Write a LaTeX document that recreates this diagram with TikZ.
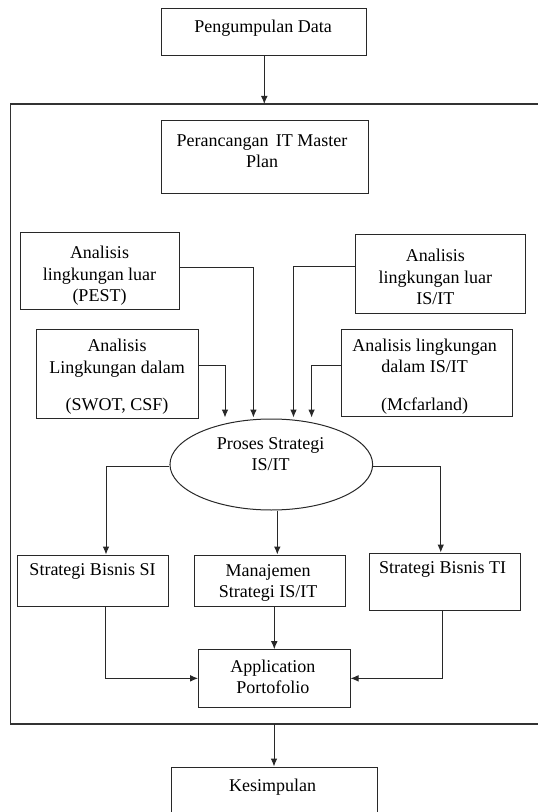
\documentclass[tikz,border=0pt]{standalone}
\usepackage{fontspec}
\setmainfont{Liberation Serif}
\usetikzlibrary{arrows.meta,calc,shapes.geometric}

\tikzset{every picture/.style={line width=0.75pt}}
\tikzset{
  box/.style={draw={rgb, 255:red, 40; green, 40; blue, 40}, inner sep=0pt},
  oval/.style={ellipse, draw={rgb, 255:red, 40; green, 40; blue, 40}, inner sep=0pt},
  frame/.style={draw={rgb, 255:red, 50; green, 50; blue, 50}, line width=1.1pt},
  txt/.style={align=center, inner sep=0.75pt, font=\fontsize{13.5}{16}\selectfont},
  arr/.style={draw={rgb, 255:red, 40; green, 40; blue, 40}, -{Latex[length=6pt,width=5pt]}}
}

\begin{document}
\begin{tikzpicture}[x=0.75pt,y=0.75pt,yscale=-1,xscale=1]
\useasboundingbox (0,0) rectangle (537,812);

%Shape: Frame (open at the right)
\draw [frame] (545,104) -- (10.7,104) -- (10.7,724) -- (545,724) ;
\coordinate (frameTop) at (264.3,104);
\coordinate (frameBot) at (274,724);

%Shape: Rectangles
\node [box, minimum width=154pt, minimum height=35.25pt] (pengumpulan) at (264.3,32.5) {};
\node [box, minimum width=155.25pt, minimum height=55.1pt] (perancangan) at (264.5,156.75) {};
\node [box, minimum width=119.6pt, minimum height=57.45pt] (pest) at (100.25,271.3) {};
\node [box, minimum width=121.5pt, minimum height=66.4pt] (dalam) at (117.6,373.75) {};
\node [box, minimum width=127.3pt, minimum height=59.25pt] (luarIT) at (440.85,274.5) {};
\node [box, minimum width=128pt, minimum height=65.6pt] (dalamIT) at (426.7,373.25) {};
%Shape: Ellipse
\node [oval, minimum width=152pt, minimum height=68.25pt] (proses) at (271.3,464.5) {};
\node [box, minimum width=113.25pt, minimum height=38.25pt] (bisnisSI) at (92.5,580.5) {};
\node [box, minimum width=112.9pt, minimum height=38.25pt] (manajemen) at (269.75,580.5) {};
\node [box, minimum width=113.6pt, minimum height=42.75pt] (bisnisTI) at (444.75,581.5) {};
\node [box, minimum width=113.55pt, minimum height=43pt] (aplikasi) at (274.3,678.35) {};
\node [box, minimum width=154.5pt, minimum height=37.5pt] (kesimpulan) at (274,792) {};

%Straight Lines
\draw [arr] (pengumpulan.south) -- (frameTop) ;
\draw [arr] ($(pest.east)+(0,-3.8)$) -| ($(proses.north)+(-17.9,-1)$) ;
\draw [arr] ($(dalam.east)+(0,-8.75)$) -| ($(proses.north)+(-46.3,-1)$) ;
\draw [arr] ($(luarIT.west)+(0,-7.7)$) -| ($(proses.north)+(22.2,-1)$) ;
\draw [arr] ($(dalamIT.west)+(0,-8.25)$) -| ($(proses.north)+(40.3,-1)$) ;
\draw [arr] ($(proses.west)+(0,2)$) -| ($(bisnisSI.north)+(13.5,0)$) ;
\path ($(proses.south)+(6,0)$) coordinate (prosesS) ;
\draw [arr] (prosesS) -- (prosesS |- manajemen.north) ;
\draw [arr] ($(proses.east)+(0,2)$) -| ($(bisnisTI.north)+(-4,0)$) ;
\draw [arr] ($(bisnisSI.south)+(12.5,0)$) |- (aplikasi.west) ;
\draw [arr] (aplikasi.north |- manajemen.south) -- (aplikasi.north) ;
\draw [arr] ($(bisnisTI.south)+(-2,0)$) |- (aplikasi.east) ;
\draw [arr] (frameBot) -- (kesimpulan.north) ;

% Text Node
\node [txt] (pengumpulanT) at (263,28) {Pengumpulan Data};
% Text Node
\node [txt] (perancanganT) at (262,151) {Perancangan\, IT Master\\Plan};
% Text Node
\node [txt] (pestT) at (99.5,276) {Analisis\\lingkungan luar\\(PEST)};
% Text Node
\node [txt] (dalamT) at (117,377) {Analisis\\Lingkungan dalam\\[12pt](SWOT, CSF)};
% Text Node
\node [txt] (luarITT) at (435.3,277) {Analisis\\lingkungan luar\\IS/IT};
% Text Node
\node [txt] (dalamITT) at (424.6,376.5) {Analisis lingkungan\\dalam IS/IT\\[12pt](Mcfarland)};
% Text Node
\node [txt] (prosesT) at (270.5,454) {Proses Strategi\\IS/IT};
% Text Node
\node [txt] (bisnisSIT) at (92.5,571) {Strategi Bisnis SI};
% Text Node
\node [txt] (manajemenT) at (268,583) {Manajemen\\Strategi IS/IT};
% Text Node
\node [txt] (bisnisTIT) at (442.6,569.5) {Strategi Bisnis TI};
% Text Node
\node [txt] (aplikasiT) at (272.8,677) {Application\\Portofolio};
% Text Node
\node [txt] (kesimpulanT) at (272.5,786.7) {Kesimpulan};
\end{tikzpicture}
\end{document}
